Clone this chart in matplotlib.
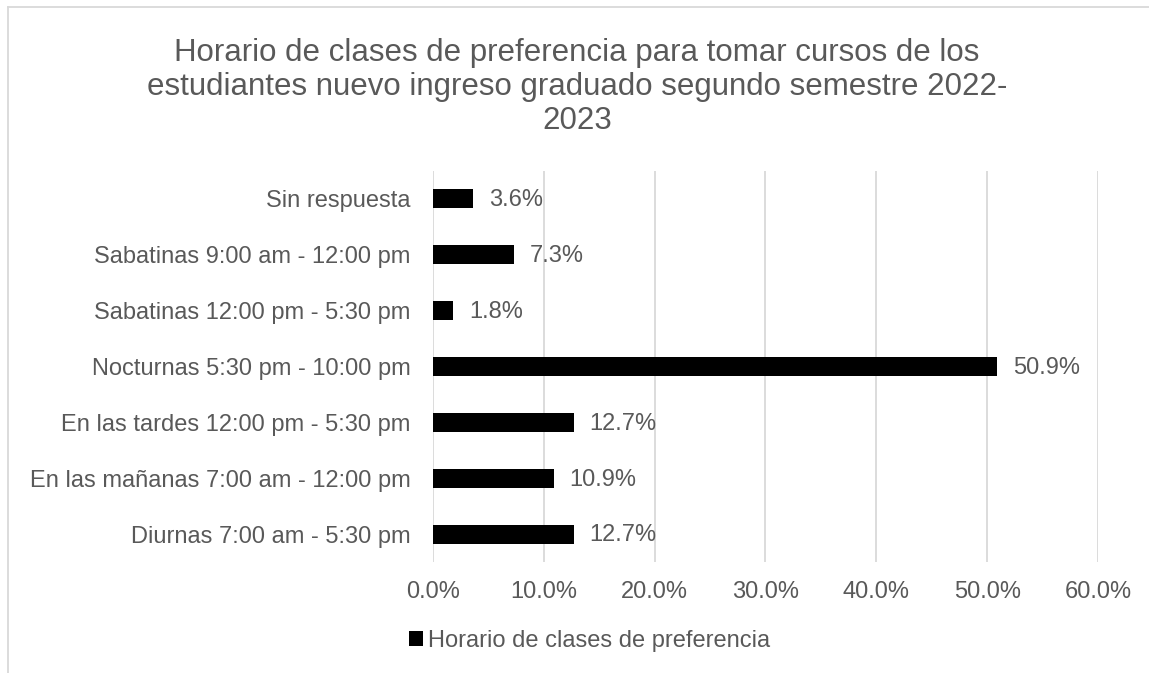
import matplotlib.pyplot as plt
from matplotlib.lines import Line2D
from matplotlib.ticker import FuncFormatter

plt.rcParams["font.family"] = ["Liberation Sans", "DejaVu Sans"]

categories = ["Diurnas 7:00 am - 5:30 pm",
              "En las mañanas 7:00 am - 12:00 pm",
              "En las tardes 12:00 pm - 5:30 pm",
              "Nocturnas 5:30 pm - 10:00 pm",
              "Sabatinas 12:00 pm - 5:30 pm",
              "Sabatinas 9:00 am - 12:00 pm",
              "Sin respuesta"]
values = [12.7, 10.9, 12.7, 50.9, 1.8, 7.3, 3.6]
xticks = [0, 10, 20, 30, 40, 50, 60]
series_name = "Horario de clases de preferencia"
title = ("Horario de clases de preferencia para tomar cursos de los\n"
         "estudiantes nuevo ingreso graduado segundo semestre 2022-\n"
         "2023")

txt = "#595959"
grid_c = "#d9d9d9"
fs = 17

fig = plt.figure(figsize=(11.49, 6.73), dpi=100)
ax = fig.add_axes([0.3768, 0.165, 0.5788, 0.581])

pos = list(range(len(categories)))
ax.barh(pos, values, height=0.34, color="black", zorder=3, label=series_name)
for p, v in zip(pos, values):
    ax.annotate(f"{v:.1f}%", (v, p), xytext=(11.5, -1), textcoords="offset points",
                va="center", ha="left", fontsize=fs, color=txt)

ax.set_xlim(0, 60)
ax.set_ylim(-0.5, len(categories) - 0.5)
ax.set_xticks(xticks)
ax.xaxis.set_major_formatter(FuncFormatter(lambda x, _: f"{x:.1f}%"))
ax.set_yticks(pos)
ax.set_yticklabels(categories)
ax.tick_params(axis="both", length=0, labelsize=fs, colors=txt)
ax.tick_params(axis="x", pad=14)
ax.tick_params(axis="y", pad=16)
ax.grid(axis="x", color=grid_c, linewidth=1.3, zorder=0)
for s in ax.spines.values():
    s.set_visible(False)

fig.text(0.502, 1 - 38 / 673, title, ha="center", va="top", fontsize=22.5,
         color=txt, linespacing=1.17)

leg = fig.legend(loc="center", bbox_to_anchor=(0.513, 1 - 641 / 673), frameon=False,
                 fontsize=fs, handlelength=0.6, handleheight=0.6,
                 handletextpad=0.2, labelcolor=txt)

# chart border (cropped on right and bottom)
fig.add_artist(Line2D([8 / 1149, 1], [1 - 7 / 673, 1 - 7 / 673],
                      transform=fig.transFigure, color=grid_c, linewidth=1.3))
fig.add_artist(Line2D([8 / 1149, 8 / 1149], [0, 1 - 7 / 673],
                      transform=fig.transFigure, color=grid_c, linewidth=1.3))

plt.savefig("out.png", dpi=100)
plt.close()
